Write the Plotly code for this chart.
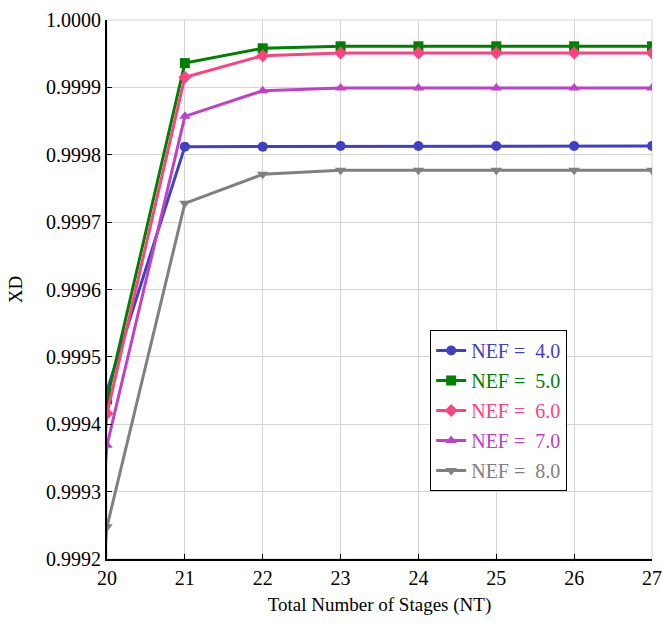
import plotly.graph_objects as go

# Total number of stages (NT); 19 lies just outside the visible axis range
nt = [19, 20, 21, 22, 23, 24, 25, 26, 27]

nef_labels = ["NEF =  4.0", "NEF =  5.0", "NEF =  6.0", "NEF =  7.0", "NEF =  8.0"]

xd_nef4 = [0.9980, 0.999450, 0.999812, 0.999812, 0.999813, 0.999813, 0.999813, 0.999813, 0.999813]
xd_nef5 = [0.9980, 0.999437, 0.999936, 0.999958, 0.999961, 0.999961, 0.999961, 0.999961, 0.999961]
xd_nef6 = [0.9980, 0.999416, 0.999915, 0.999947, 0.999951, 0.999951, 0.999951, 0.999951, 0.999951]
xd_nef7 = [0.9980, 0.999369, 0.999857, 0.999895, 0.999899, 0.999899, 0.999899, 0.999899, 0.999899]
xd_nef8 = [0.9980, 0.999248, 0.999728, 0.999771, 0.999777, 0.999777, 0.999777, 0.999777, 0.999777]

series = [xd_nef4, xd_nef5, xd_nef6, xd_nef7, xd_nef8]
colors = ["#4040c4", "#008000", "#ff4081", "#c040c8", "#808080"]
symbols = ["circle", "square", "diamond", "triangle-up", "triangle-down"]

y_ticks = [0.9992, 0.9993, 0.9994, 0.9995, 0.9996, 0.9997, 0.9998, 0.9999, 1.0000]
x_ticks = [20, 21, 22, 23, 24, 25, 26, 27]

fig = go.Figure()
for i, (lab, ys, c, s) in enumerate(zip(nef_labels, series, colors, symbols)):
    fig.add_trace(go.Scatter(
        x=nt, y=ys, mode="lines+markers",
        name=f"<span style='color:{c}'>{lab}</span>",
        legendgroup=f"g{i}",
        line=dict(color=c, width=3),
        marker=dict(symbol=s, size=10, color=c),
        cliponaxis=True,
    ))

font = "Liberation Serif"
fig.update_layout(
    width=662, height=623,
    margin=dict(l=107, r=10, t=20, b=64, autoexpand=False),
    paper_bgcolor="white", plot_bgcolor="white",
    font=dict(family=font, size=19, color="black"),
    showlegend=True,
    legend=dict(
        x=0.593, y=0.425, xanchor="left", yanchor="top",
        bgcolor="white", bordercolor="black", borderwidth=1,
        font=dict(family=font, size=20),
        tracegroupgap=1,
        itemwidth=30,
    ),
    xaxis=dict(
        range=[20, 27], tickvals=x_ticks, ticktext=[str(v) for v in x_ticks],
        showgrid=True, gridcolor="#d4d4d4", gridwidth=1,
        showline=True, linecolor="black", linewidth=2,
        ticks="inside", ticklen=5, tickcolor="black",
        zeroline=False, automargin=False,
        title=dict(text="Total Number of Stages (NT)", font=dict(family=font, size=19), standoff=10),
        tickfont=dict(family=font, size=20),
    ),
    yaxis=dict(
        range=[0.9992, 1.0000], tickvals=y_ticks, ticktext=[f"{v:.4f}" for v in y_ticks],
        showgrid=True, gridcolor="#d4d4d4", gridwidth=1,
        showline=True, linecolor="black", linewidth=2,
        ticks="inside", ticklen=5, tickcolor="black",
        zeroline=False, automargin=False,
        title=dict(text="XD", font=dict(family=font, size=19), standoff=18),
        tickfont=dict(family=font, size=20),
    ),
)
# light frame on top/right like the reference
fig.add_shape(type="rect", xref="paper", yref="paper", x0=0, y0=0, x1=1, y1=1,
              line=dict(color="#d4d4d4", width=1), layer="below")

fig.write_html("out.html")
